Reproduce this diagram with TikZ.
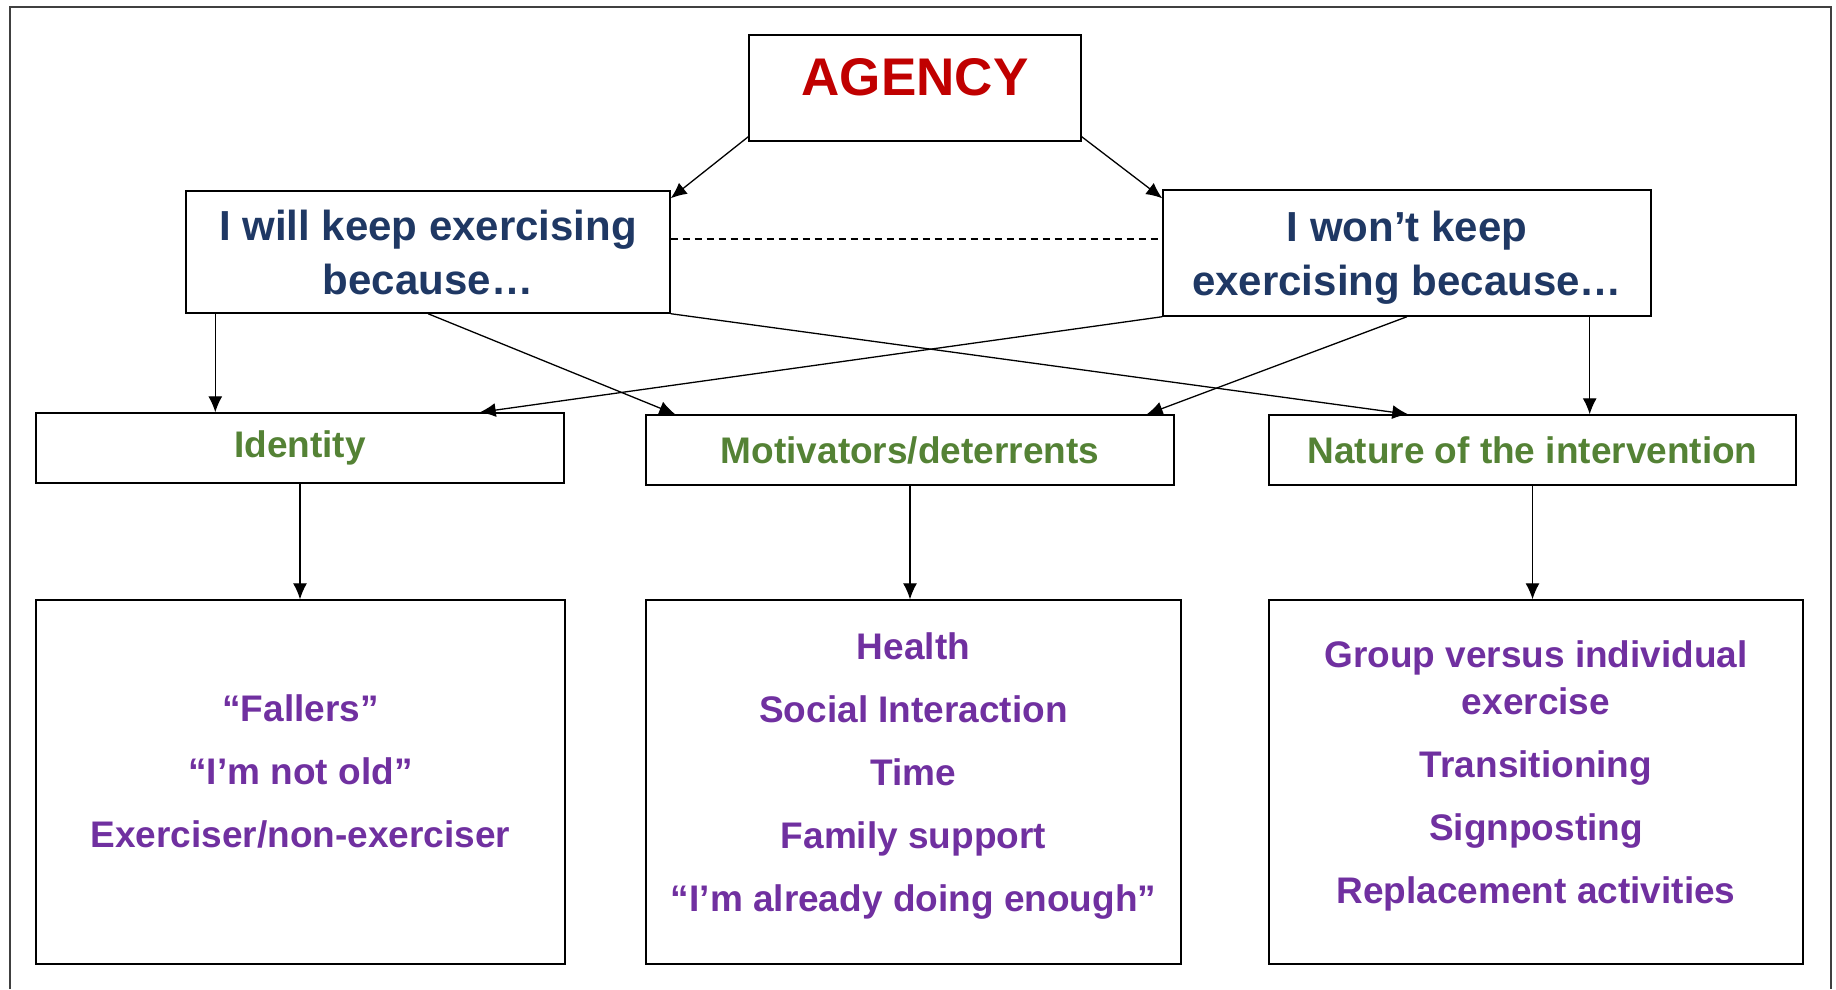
\documentclass[tikz,border=0pt]{standalone}
\usepackage{fontspec}
\setmainfont{Liberation Sans}
\usetikzlibrary{arrows.meta}
\definecolor{agencyred}{HTML}{C00000}
\definecolor{stemblue}{HTML}{1F3864}
\definecolor{themegreen}{HTML}{548235}
\definecolor{itempurple}{HTML}{7030A0}
\definecolor{framegray}{HTML}{404040}

\begin{document}
\begin{tikzpicture}[x=1pt,y=-1pt,
    box/.style={draw,line width=1.4pt,inner sep=0pt,align=center},
    link/.style={line width=1.3pt,-{Latex[length=16pt,width=14pt]}},
    stemtext/.style={text=stemblue,font=\fontsize{42}{54}\selectfont\bfseries},
    themetext/.style={text=themegreen,font=\fontsize{37}{44}\selectfont\bfseries},
    itemtext/.style={text=itempurple,font=\fontsize{37}{63}\selectfont\bfseries,align=center}]
\useasboundingbox (0,0) rectangle (1836,989);
\draw[framegray,line width=2pt] (10,989) -- (10,7) -- (1831,7) -- (1831,989);

\node[box,minimum width=332,minimum height=106] (agency) at (915,88) {};
\node[text=agencyred,font=\fontsize{53}{60}\selectfont\bfseries] (agencytext)
    at ([yshift=10.5]agency.center) {AGENCY};

\node[box,stemtext,minimum width=484,minimum height=122] (will) at (428,252)
    {I will keep exercising\\because…};
\node[box,stemtext,text depth=0pt,minimum width=488,minimum height=126] (wont) at (1407,253)
    {I won’t keep\\exercising because…};

\node[box,themetext,minimum width=528,minimum height=70] (identity)   at (300,448)    {Identity};
\node[box,themetext,minimum width=528,minimum height=70] (motivators) at (910,450)    {Motivators/deterrents};
\node[box,themetext,minimum width=527,minimum height=70] (nature)     at (1532.5,450) {Nature of the intervention};

\node[box,minimum width=529,minimum height=364] (fallers) at (300.5,782)  {};
\node[box,minimum width=535,minimum height=364] (factors) at (913.5,782)  {};
\node[box,minimum width=534,minimum height=364] (formats) at (1536,782)   {};

\node[itemtext] (fallerstext) at ([yshift=10.5]fallers.center)
    {“Fallers”\\“I’m not old”\\Exerciser/non-exerciser};
\node[itemtext] (factorstext) at ([yshift=6]factors.center)
    {Health\\Social Interaction\\Time\\Family support\\“I’m already doing enough”};
\node[itemtext,font=\fontsize{37}{47}\selectfont\bfseries] (formatstext) at ([yshift=6.5]formats.center)
    {Group versus individual\\exercise\\[16pt]Transitioning\\[16pt]Signposting\\[16pt]Replacement activities};

\draw[link] ([yshift=5]agency.south west) -- ([yshift=-8]will.north east);
\draw[link] ([yshift=5]agency.south east) -- ([yshift=-9]wont.north west);
\draw[line width=1.6pt,dash pattern=on 7pt off 5pt]
    ([yshift=13]will.east) -- ([yshift=13]will.east -| wont.west);

\draw[link] ([xshift=30]will.south west) -- ([xshift=30]will.south west |- identity.north);
\draw[link] (will.south)      -- ([xshift=30]motivators.north west);
\draw[link] (will.south east) -- ([xshift=140]nature.north west);
\draw[link] (wont.south west) -- ([xshift=-85]identity.north east);
\draw[link] (wont.south)      -- ([xshift=-28]motivators.north east);
\draw[link] ([xshift=-62]wont.south east) -- ([xshift=-62]wont.south east |- nature.north);

\draw[link] (identity.south)   -- (identity.south |- fallers.north);
\draw[link] (motivators.south) -- (motivators.south |- factors.north);
\draw[link] (nature.south)     -- (nature.south |- formats.north);
\end{tikzpicture}
\end{document}
